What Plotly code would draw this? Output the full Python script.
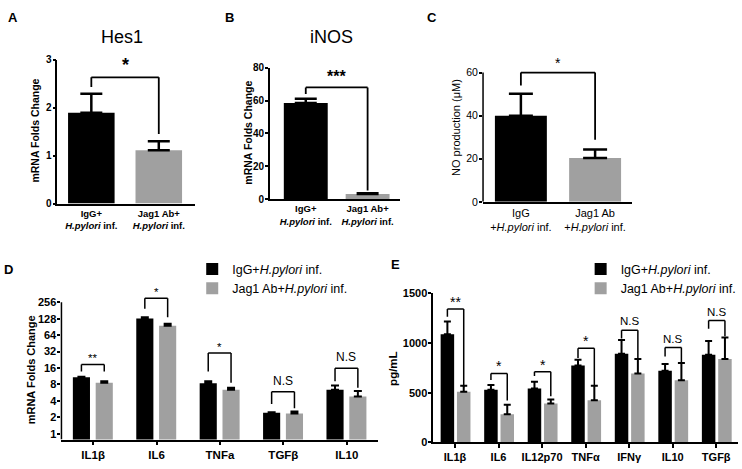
import math
import plotly.graph_objects as go

W, H = 742, 469
FONT = "Liberation Sans, Arial, sans-serif"
BLACK = "#000000"
GRAY = "#a0a0a0"

# ---------------- data ----------------
abc_groups = ["IgG+H.pylori inf.", "Jag1 Ab+H.pylori inf."]
ab_ticktext = ["IgG+<br><i>H.pylori</i> inf.", "Jag1 Ab+<br><i>H.pylori</i> inf."]
c_ticktext = ["IgG<br>+<i>H.pylori</i> inf.", "Jag1 Ab<br>+<i>H.pylori</i> inf."]

hes1_mean = [1.89, 1.11]
hes1_sem = [0.40, 0.19]
hes1_bracket = [2.43, 2.63, 1.45]   # left arm end, top, right arm end
hes1_sig = "*"
hes1_ticks = [0, 1, 2, 3]

inos_mean = [58.5, 3.2]
inos_sem = [2.6, 0.4]
inos_bracket = [64.0, 68.0, 5.3]
inos_sig = "***"
inos_ticks = [0, 20, 40, 60, 80]

no_mean = [39.9, 20.4]
no_sem = [10.3, 3.9]
no_bracket = [54.0, 60.0, 28.8]
no_sig = "*"
no_ticks = [0, 20, 40, 60]

d_genes = ["IL1β", "IL6", "TNFa", "TGFβ", "IL10"]
d_igg = [10.8, 129, 8.4, 2.44, 6.4]
d_igg_sem = [0.3, 8, 0.8, 0.05, 1.3]
d_jag = [8.6, 95, 6.4, 2.34, 4.8]
d_jag_sem = [0.6, 9, 0.6, 0.23, 1.3]
d_br_left = [13.8, 195, 13.9, 3.5, 9.2]
d_br_top = [18.6, 303, 30.3, 5.9, 15.9]
d_br_right = [13.8, 137, 8.6, 2.95, 7.0]
d_sig = ["**", "*", "*", "N.S", "N.S"]
d_ticks = [1, 2, 4, 8, 16, 32, 64, 128, 256]

e_cyto = ["IL1β", "IL6", "IL12p70", "TNFα", "IFNγ", "IL10", "TGFβ"]
e_igg = [1089, 530, 543, 773, 891, 720, 882]
e_igg_sem = [128, 46, 66, 59, 139, 69, 138]
e_jag = [510, 283, 391, 424, 694, 625, 839]
e_jag_sem = [59, 95, 40, 145, 145, 174, 217]
e_br_left = [1266, 628, 668, 850, 1046, 865, 1145]
e_br_top = [1342, 694, 710, 947, 1128, 954, 1227]
e_br_right = [553, 421, 464, 569, 849, 806, 1069]
e_sig = ["**", "*", "*", "*", "N.S", "N.S", "N.S"]
e_ticks = [0, 500, 1000, 1500]

legend_names = ["IgG+<i>H.pylori</i> inf.", "Jag1 Ab+<i>H.pylori</i> inf."]


# ---------------- helpers ----------------
def dx(p0, p1):
    return [p0 / W, p1 / W]


def dy(top, bottom):
    return [1 - bottom / H, 1 - top / H]


def px(x):
    return x / W


def py(y):
    return 1 - y / H


shapes = []
annotations = []


def bracket(xr, yr, xl, xrt, yl, yt, yrr, lw=1.5):
    for (x0, y0, x1, y1) in [(xl, yl, xl, yt), (xl, yt, xrt, yt), (xrt, yt, xrt, yrr)]:
        shapes.append(dict(type="line", xref=xr, yref=yr, x0=x0, y0=y0, x1=x1, y1=y1,
                           line=dict(color=BLACK, width=lw)))


def sig_text(xr, yr, x, y, text, size, bold=False, shift=None):
    if shift is None:
        shift = -3 if "*" in text else 1
    annotations.append(dict(xref=xr, yref=yr, x=x, y=y, text=text, showarrow=False,
                            xanchor="center", yanchor="bottom", yshift=shift,
                            font=dict(family=FONT, size=size, color=BLACK,
                                      weight="bold" if bold else "normal")))


def label(x, y, text, size, bold=True, angle=0):
    annotations.append(dict(xref="paper", yref="paper", x=px(x), y=py(y), text=text,
                            showarrow=False, xanchor="center", yanchor="middle",
                            textangle=angle,
                            font=dict(family=FONT, size=size, color=BLACK,
                                      weight="bold" if bold else "normal")))


fig = go.Figure()

# ---------------- panels A, B, C ----------------
abc = [
    ("x", "y", hes1_mean, hes1_sem, 0.69, 11),
    ("x2", "y2", inos_mean, inos_sem, 0.71, 11),
    ("x3", "y3", no_mean, no_sem, 0.70, 12),
]
for xa, ya, mean, sem, wd, cap in abc:
    fig.add_trace(go.Bar(
        x=abc_groups, y=mean, width=wd, xaxis=xa, yaxis=ya, showlegend=False,
        marker=dict(color=[BLACK, GRAY], line=dict(width=0)),
        error_y=dict(type="data", array=sem, arrayminus=[0] * len(sem), symmetric=False,
                     color=BLACK, thickness=2.5, width=cap),
    ))

for xa, ya, br, sig, size, bold in [
    ("x", "y", hes1_bracket, hes1_sig, 18, True),
    ("x2", "y2", inos_bracket, inos_sig, 16, True),
    ("x3", "y3", no_bracket, no_sig, 14, False),
]:
    bracket(xa, ya, 0, 1, br[0], br[1], br[2], lw=1.8)
    sig_text(xa, ya, 0.5, br[1], sig, size, bold, shift=0)

# ---------------- panel D ----------------
D_OFF = [-0.32, 0.04]
D_W = 0.27
for vals, sem, col, off, nm in [(d_igg, d_igg_sem, BLACK, D_OFF[0], legend_names[0]),
                                (d_jag, d_jag_sem, GRAY, D_OFF[1], legend_names[1])]:
    fig.add_trace(go.Bar(
        x=d_genes, y=vals, width=D_W, offset=off, name=nm, legend="legend",
        xaxis="x4", yaxis="y4", marker=dict(color=col, line=dict(width=0)),
        error_y=dict(type="data", array=sem, arrayminus=[0] * len(sem), symmetric=False,
                     color=BLACK, thickness=2, width=4),
    ))
dl = D_OFF[0] + D_W / 2
dr = D_OFF[1] + D_W / 2
for i in range(len(d_genes)):
    bracket("x4", "y4", i + dl, i + dr, d_br_left[i], d_br_top[i], d_br_right[i], lw=1.5)
    ns = d_sig[i] == "N.S"
    sig_text("x4", "y4", i + (dl + dr) / 2, math.log10(d_br_top[i]), d_sig[i],
             12 if ns else 11.5, False, shift=2 if ns else -2)

# ---------------- panel E ----------------
E_OFF = [-0.33, 0.045]
E_W = 0.31
for vals, sem, col, off, nm in [(e_igg, e_igg_sem, BLACK, E_OFF[0], legend_names[0]),
                                (e_jag, e_jag_sem, GRAY, E_OFF[1], legend_names[1])]:
    fig.add_trace(go.Bar(
        x=e_cyto, y=vals, width=E_W, offset=off, name=nm, legend="legend2",
        xaxis="x5", yaxis="y5", marker=dict(color=col, line=dict(width=0)),
        error_y=dict(type="data", array=sem, arrayminus=[0] * len(sem), symmetric=False,
                     color=BLACK, thickness=2, width=3.5),
    ))
el = E_OFF[0] + E_W / 2
er = E_OFF[1] + E_W / 2
for i in range(len(e_cyto)):
    bracket("x5", "y5", i + el, i + er, e_br_left[i], e_br_top[i], e_br_right[i], lw=1.5)
    ns = e_sig[i] == "N.S"
    sig_text("x5", "y5", i + (el + er) / 2, e_br_top[i], e_sig[i],
             11.5 if ns else 14, False, shift=1 if ns else -3)

# ---------------- axes ----------------
def xaxis_cfg(domain, rng, tickvals, ticktext, size, bold, ticks=""):
    return dict(domain=domain, range=rng, type="category", showline=True, linecolor=BLACK,
                linewidth=1.5, ticks=ticks, ticklen=4, tickwidth=1.5, tickcolor=BLACK,
                showgrid=False, zeroline=False, tickvals=tickvals, ticktext=ticktext,
                tickfont=dict(family=FONT, size=size, color=BLACK,
                              weight="bold" if bold else "normal"),
                fixedrange=True)


def yaxis_cfg(domain, rng, tickvals, size, bold, anchor, showline=True, typ="linear",
              ticktext=None, ticklen=4, standoff=0):
    d = dict(domain=domain, range=rng, type=typ, showline=showline, linecolor=BLACK,
             linewidth=1.5, ticks="outside", ticklen=ticklen, tickwidth=1.5,
             tickcolor=BLACK, showgrid=False, zeroline=False, tickvals=tickvals,
             anchor=anchor, ticklabelstandoff=standoff,
             tickfont=dict(family=FONT, size=size, color=BLACK,
                           weight="bold" if bold else "normal"),
             fixedrange=True)
    if ticktext is not None:
        d["ticktext"] = ticktext
    return d


# y pixel geometry
A_top, A_bot = 55.0, 202.7
B_top, B_bot = 63.3, 198.3
C_bot, C_60 = 201.0, 68.3
C_max = 68.0
C_top = C_bot - C_max * (C_bot - C_60) / max(no_ticks)
D_one, D_step, D_bot = 439.0, 16.86, 445.0
D_lo_exp = -(D_bot - D_one) / D_step
D_hi_exp = 8.8
D_top = D_one - D_hi_exp * D_step
E_top, E_bot = 295.0, 447.7

layout = dict(
    width=W, height=H, margin=dict(l=0, r=0, t=0, b=0),
    paper_bgcolor="white", plot_bgcolor="white", barmode="overlay",
    font=dict(family=FONT, color=BLACK),
    xaxis=xaxis_cfg(dx(57.5, 196), [-0.505, 1.54], abc_groups, ab_ticktext, 9.5, True),
    yaxis=yaxis_cfg(dy(A_top, A_bot), [0, max(hes1_ticks)], hes1_ticks, 10, True, "x",
                    ticklen=3, standoff=-1),
    xaxis2=xaxis_cfg(dx(271, 402), [-0.58, 1.53], abc_groups, ab_ticktext, 9.5, True),
    yaxis2=yaxis_cfg(dy(B_top, B_bot), [0, max(inos_ticks)], inos_ticks, 10, True, "x2",
                     ticklen=3, standoff=-1),
    xaxis3=xaxis_cfg(dx(485, 635), [-0.51, 1.503], abc_groups, c_ticktext, 11, False),
    yaxis3=yaxis_cfg(dy(C_top, C_bot), [0, C_max], no_ticks, 10.5, False, "x3",
                     showline=False, ticklen=3, standoff=-1),
    xaxis4=xaxis_cfg(dx(61.7, 380), [-0.5, len(d_genes) - 0.5], d_genes, d_genes, 11.5,
                     True, ticks="outside"),
    yaxis4=yaxis_cfg(dy(D_top, D_bot),
                     [D_lo_exp * math.log10(2), D_hi_exp * math.log10(2)],
                     d_ticks, 11, True, "x4", showline=False, typ="log",
                     ticktext=[str(t) for t in d_ticks], ticklen=3, standoff=-1),
    xaxis5=xaxis_cfg(dx(435, 741), [-0.5, len(e_cyto) - 0.5], e_cyto, e_cyto, 11, True,
                     ticks="outside"),
    yaxis5=yaxis_cfg(dy(E_top, E_bot), [0, max(e_ticks)], e_ticks, 11, True, "x5",
                     ticklen=3, standoff=-1),
    legend=dict(x=px(193), y=py(255), xanchor="left", yanchor="top",
                font=dict(family=FONT, size=12.5, color=BLACK), bgcolor="rgba(0,0,0,0)",
                tracegroupgap=0),
    legend2=dict(x=px(583), y=py(255), xanchor="left", yanchor="top",
                 font=dict(family=FONT, size=12.5, color=BLACK), bgcolor="rgba(0,0,0,0)",
                 tracegroupgap=0),
)
for ax in ["xaxis", "xaxis2", "xaxis3", "xaxis4", "xaxis5"]:
    layout[ax]["anchor"] = "y" + ax[5:]

# y-axis lines that stop at the top tick (C and D)
shapes.append(dict(type="line", xref="x3 domain", yref="y3", x0=0, x1=0, y0=0,
                   y1=max(no_ticks), line=dict(color=BLACK, width=1.5)))
shapes.append(dict(type="line", xref="x4 domain", yref="y4", x0=0, x1=0,
                   y0=2 ** D_lo_exp, y1=max(d_ticks), line=dict(color=BLACK, width=1.5)))

# titles / labels
label(122, 32, "Hes1", 18, bold=False)
label(333, 32, "iNOS", 18, bold=False)
label(13, 12, "A", 13)
label(230, 12, "B", 13)
label(434, 12, "C", 13)
label(9, 270, "D", 13)
label(397, 265, "E", 13)
label(35, 128, "mRNA Folds Change", 10.5, angle=-90)
label(249, 130, "mRNA Folds Change", 10.5, angle=-90)
label(458, 125, "NO production (μM)", 11, bold=False, angle=-90)
label(32, 373, "mRNA Folds Change", 11, angle=-90)
label(395, 372, "pg/mL", 11.5, angle=-90)

layout["shapes"] = shapes
layout["annotations"] = annotations
fig.update_layout(**layout)
fig.write_html("out.html", config={"displayModeBar": False},
               post_script="document.body.style.margin='0px';")
